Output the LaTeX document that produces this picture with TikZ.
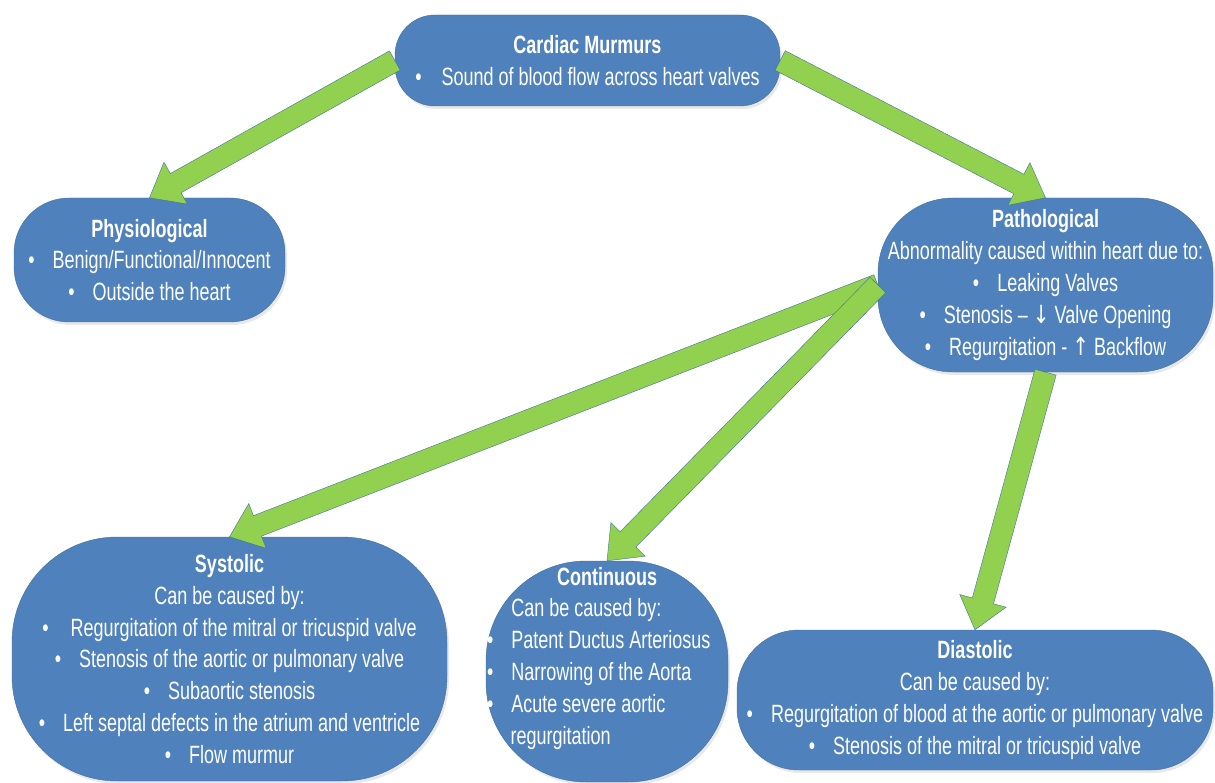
\documentclass[tikz,border=0pt]{standalone}
\usepackage{fontspec}
\setmainfont{Liberation Sans}[FakeStretch=0.72]
\newfontfamily\arrowfont{DejaVu Sans}[FakeStretch=0.8]
\usepackage{tikz}
\usetikzlibrary{calc, shadows}
\definecolor{murmurblue}{HTML}{4F81BD}
\definecolor{murmuredge}{HTML}{41719C}
\definecolor{murmurgreen}{HTML}{92D050}
\newcommand{\bul}{\textbullet\hspace{18pt}}

\begin{document}
\begin{tikzpicture}[x=1pt, y=-1pt,
  box/.style={draw=murmuredge, thin, fill=murmurblue, text=white, align=center,
    inner sep=0pt, font=\fontsize{25}{31.8}\selectfont,
    drop shadow={shadow xshift=2pt, shadow yshift=-3pt, opacity=0.18}},
  fatarrow/.style={draw=murmuredge, thin, fill=murmurgreen, line join=miter}]
  \useasboundingbox (0,0) rectangle (1215,783);

  % Top level
  \node[box, minimum width=385pt, minimum height=91pt, rounded corners=40pt] (murmurs) at (587.5,60.5)
    {\textbf{Cardiac Murmurs}\\ \textbullet\hspace{20pt}Sound of blood flow across heart valves\hspace{25pt}};

  % Second level
  \node[box, minimum width=271pt, minimum height=124pt, rounded corners=55pt] (phys) at (149.5,260)
    {\textbf{Physiological}\\ \bul Benign/Functional/Innocent\\ \bul Outside the heart};
  \node[box, minimum width=335pt, minimum height=174pt, rounded corners=75pt] (patho) at (1045.5,285)
    {\textbf{Pathological}\\ Abnormality caused within heart due to:\\ \bul Leaking Valves\\
     \bul Stenosis – {\arrowfont ↓} Valve Opening\\ \bul Regurgitation - {\arrowfont ↑} Backflow};

  % Third level
  \node[box, minimum width=435pt, minimum height=244pt, rounded corners=105pt] (syst) at (229.5,659)
    {\textbf{Systolic}\\ Can be caused by:\\ \textbullet\hspace{22pt}Regurgitation of the mitral or tricuspid valve\\
     \bul Stenosis of the aortic or pulmonary valve\\ \bul Subaortic stenosis\\
     \bul Left septal defects in the atrium and ventricle\\ \bul Flow murmur};
  \node[box, align=flush left, text width=240pt, inner xsep=1pt, minimum height=221pt,
        rounded corners=100pt] (cont) at (607,671.5)
    {\hbox to\hsize{\hfil\bfseries Continuous\hfil}\\ \bul Can be caused by:\\ \bul Patent Ductus Arteriosus\\
     \bul Narrowing of the Aorta\\ \bul Acute severe aortic\\ \hspace*{23.5pt}regurgitation\\ \mbox{}};
  \node[box, minimum width=476pt, minimum height=140pt, rounded corners=62pt] (diast) at (975,700)
    {\textbf{Diastolic}\\ Can be caused by:\\ \bul Regurgitation of blood at the aortic or pulmonary valve\\
     \bul Stenosis of the mitral or tricuspid valve};

  % Block arrows
  \foreach \a/\b in {murmurs.west/phys.north, murmurs.east/patho.north, patho.west/syst.north,
                     patho.west/cont.north, patho.south/diast.north} {
    \coordinate (hb) at ($(\b)!30pt!(\a)$);
    \draw[fatarrow] ($(\a)!11pt!90:(\b)$) -- ($(hb)!11pt!90:(\b)$) -- ($(hb)!24pt!90:(\b)$)
      -- (\b) -- ($(hb)!24pt!-90:(\b)$) -- ($(hb)!11pt!-90:(\b)$) -- ($(\a)!11pt!-90:(\b)$) -- cycle;
  }
\end{tikzpicture}
\end{document}
